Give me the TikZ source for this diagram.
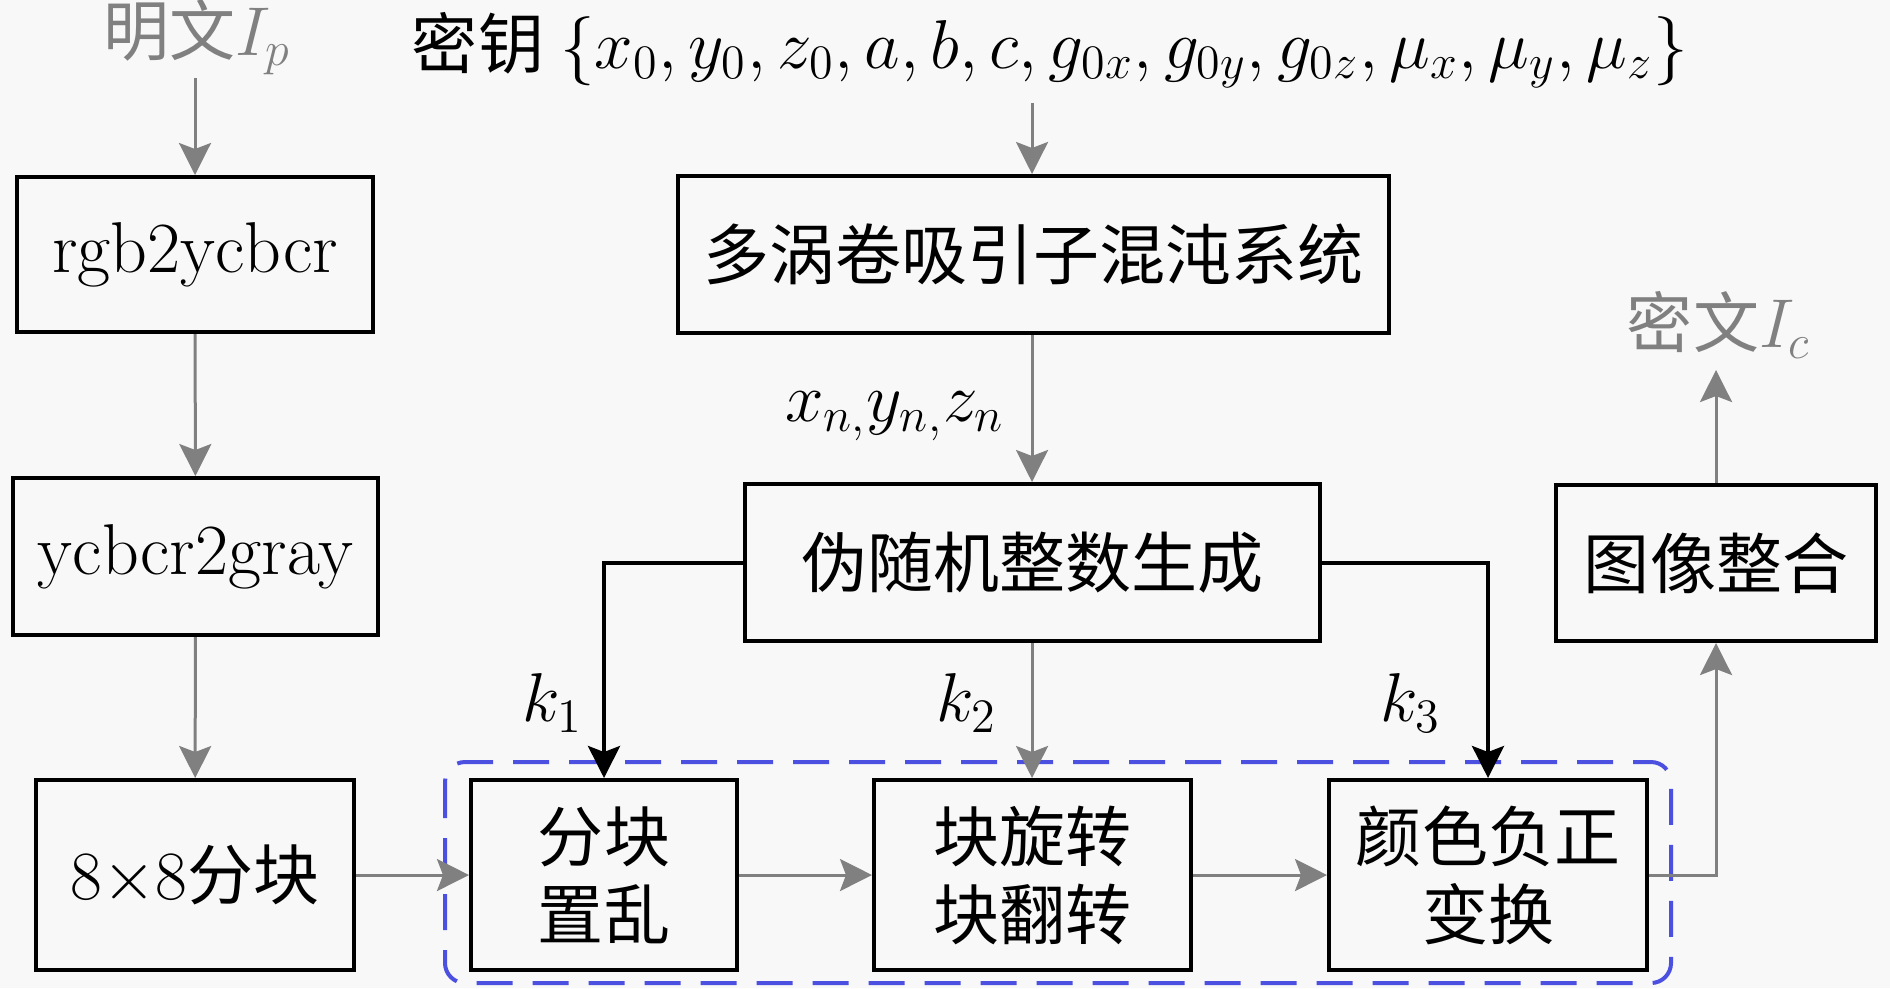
\documentclass[tikz,border=0pt]{standalone}
\usepackage{fontspec}
\newfontfamily\cjk[Scale=0.917]{Noto Sans CJK SC}
\usetikzlibrary{arrows.meta}
\definecolor{bgc}{RGB}{248,248,248}
\definecolor{arrgray}{RGB}{128,128,128}
\definecolor{dashblue}{RGB}{75,80,225}
\tikzset{
  box/.style={draw=black, line width=1pt, inner sep=0pt, align=center, fill=bgc},
  garrow/.style={draw=arrgray, line width=0.75pt, -{Stealth[length=8pt,width=8pt,inset=1.5pt]}, color=arrgray},
  karrow/.style={draw=black, line width=1pt, -{Stealth[length=8pt,width=8pt,inset=1.5pt]}},
  lbl/.style={inner sep=0pt}
}
\begin{document}
\begin{tikzpicture}[x=0.25pt,y=-0.25pt,font=\fontsize{18}{19.5}\selectfont]
\fill[bgc] (0,0) rectangle (1890,988);
\useasboundingbox (0,0) rectangle (1890,988);
% dashed group box
\draw[dashblue, line width=1pt, dash pattern=on 9pt off 5pt, rounded corners=5pt] (445,762) rectangle (1671,983);
% nodes
\node[lbl, text=arrgray] (plain) at (197,37) {{\cjk 明文}$I_p$};
\node[lbl] (key) at (1050,50) {{\cjk 密钥}\hspace{4pt}$\{x_0,y_0,z_0,a,b,c,g_{0x},g_{0y},g_{0z},\mu_x,\mu_y,\mu_z\}$};
\node[lbl, text=arrgray] (cipher) at (1719,325) {{\cjk 密文}$I_c$};
\node[box, minimum width=89pt, minimum height=38.75pt] (a1) at (195,254.5) {rgb2ycbcr};
\node[box, minimum width=91.25pt, minimum height=39.25pt] (a2) at (195.5,556.5) {ycbcr2gray};
\node[box, minimum width=79.5pt, minimum height=47.5pt] (a3) at (195,875) {$8{\times}8${\cjk 分块}};
\node[box, minimum width=177.75pt, minimum height=39.25pt] (chaos) at (1033.5,254.5) {\cjk 多涡卷吸引子混沌系统};
\node[box, minimum width=143.75pt, minimum height=39.25pt] (prng) at (1032.5,562.5) {\cjk 伪随机整数生成};
\node[box, minimum width=66.5pt, minimum height=47.5pt] (b1) at (604,875) {\cjk 分块\\\cjk 置乱};
\node[box, minimum width=79.25pt, minimum height=47.5pt] (b2) at (1032.5,875) {\cjk 块旋转\\\cjk 块翻转};
\node[box, minimum width=79.5pt, minimum height=47.5pt] (b3) at (1488,875) {\cjk 颜色负正\\\cjk 变换};
\node[box, minimum width=80pt, minimum height=39pt] (merge) at (1716,563) {\cjk 图像整合};
% labels
\node[lbl] (xyz) at (895,416) {$x_{n,}y_{n,}z_n$};
\node[lbl] (k1) at (553,703) {$k_1$};
\node[lbl] (k2) at (967,703) {$k_2$};
\node[lbl] (k3) at (1411,703) {$k_3$};
% coordinates
\coordinate (plainout) at (195,78);
\coordinate (keyout) at (1032,103);
\coordinate (cipherin) at (1716,370);
% connectors
\draw[garrow] (plainout) -- (a1.north);
\draw[garrow] (a1) -- (a2);
\draw[garrow] (a2) -- (a3);
\draw[garrow] (keyout) -- (keyout |- chaos.north);
\draw[garrow] (chaos.south -| keyout) -- (keyout |- prng.north);
\draw[garrow] (prng.south -| keyout) -- (keyout |- b2.north);
\draw[karrow] (prng.west) -| (b1.north);
\draw[karrow] (prng.east) -| (b3.north);
\draw[garrow] (a3) -- (b1);
\draw[garrow] (b1) -- (b2);
\draw[garrow] (b2) -- (b3);
\draw[garrow] (b3.east) -| (merge.south);
\draw[garrow] (merge.north) -- (cipherin);
\end{tikzpicture}
\end{document}
